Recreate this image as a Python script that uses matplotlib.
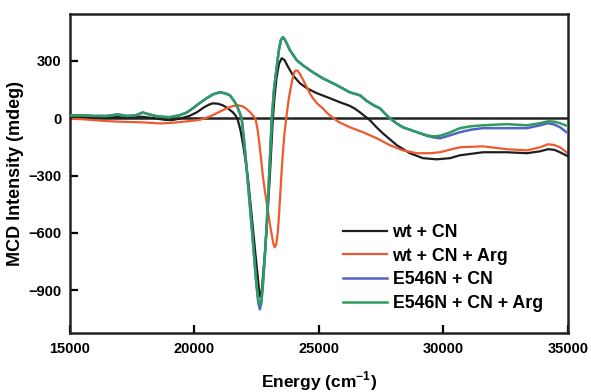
import numpy as np
import matplotlib.pyplot as plt

plt.rcParams['font.family'] = ['Liberation Sans', 'DejaVu Sans']
plt.rcParams['font.weight'] = 'bold'
plt.rcParams['mathtext.fontset'] = 'custom'
plt.rcParams['mathtext.rm'] = 'Liberation Sans:bold'
plt.rcParams['mathtext.bf'] = 'Liberation Sans:bold'

# wt + CN
wt_x = [15000, 15500, 16000, 16500, 16900, 17300, 17900, 18400, 18800, 19100, 19420,
        19800, 20100, 20400, 20600, 20750, 20950, 21140, 21350, 21550, 21680, 21750,
        21850, 21950, 22050, 22150, 22250, 22350, 22450, 22550, 22600, 22650, 22700,
        22750, 22830, 22910, 22970, 23030, 23090, 23150, 23220, 23300, 23400, 23510,
        23620, 23760, 23960, 24240, 24520, 24920, 25440, 25840, 26240, 26450, 26650,
        27050, 27300, 27570, 28130, 28650, 29180, 29740, 30260, 30660, 31590, 32550,
        33350, 33880, 34200, 34450, 34680, 35000]
wt_y = [5, 5, 3, 3, 6, 3, 8, 0, -8, -10, -2,
        12, 31, 58, 72, 78, 76, 68, 52, 31, 10, -10,
        -60, -131, -215, -309, -440, -571, -705, -832, -900, -935, -910,
        -840, -710, -571, -440, -309, -160, -10, 110, 210, 285, 314,
        305, 270, 225, 183, 157, 131, 105, 84, 65, 50, 31,
        -10, -45, -79, -141, -183, -209, -215, -209, -194, -178, -178,
        -183, -173, -162, -165, -178, -199]

# wt + CN + Arg
wt_arg_x = [15000, 15500, 16000, 16500, 17000, 17500, 18000, 18600, 19000, 19420, 19800,
            20220, 20500, 20740, 21000, 21300, 21550, 21750, 21950, 22100, 22250, 22350,
            22450, 22530, 22600, 22680, 22750, 22850, 22950, 23030, 23110, 23170, 23230,
            23290, 23350, 23400, 23450, 23500, 23550, 23620, 23700, 23780, 23850, 23950,
            24020, 24080, 24150, 24250, 24350, 24520, 24640, 24760, 24950, 25160, 25350,
            25560, 25800, 26240, 26770, 27330, 27850, 28370, 28940, 29460, 29860, 30250,
            30660, 31590, 32550, 33350, 33880, 34200, 34450, 34680, 35000]
wt_arg_y = [-3, -5, -10, -15, -18, -20, -22, -27, -25, -20, -15,
            -8, 3, 16, 33, 52, 64, 68, 62, 48, 30, 15,
            0, -50, -120, -210, -300, -395, -480, -550, -610, -655, -675,
            -660, -600, -510, -400, -290, -190, -80, 10, 90, 145, 210,
            243, 251, 248, 230, 205, 162, 130, 105, 75, 52, 25,
            3, -20, -47, -73, -105, -141, -168, -183, -183, -178, -165,
            -152, -147, -162, -168, -152, -136, -140, -152, -183]

# E546N + CN
mut_x = [15000, 15500, 16000, 16500, 16930, 17300, 17650, 17930, 18200, 18500, 19000,
         19420, 19700, 19940, 20200, 20500, 20750, 21020, 21250, 21430, 21600, 21700,
         21830, 21900, 22000, 22100, 22200, 22300, 22400, 22500, 22570, 22630, 22690,
         22750, 22850, 22950, 23030, 23110, 23200, 23300, 23400, 23480, 23550, 23620,
         23700, 23840, 24110, 24360, 24760, 25160, 25720, 26240, 26650, 26930, 27200,
         27450, 27650, 27850, 28100, 28370, 28940, 29340, 29600, 29860, 30250, 30660,
         31100, 31590, 32550, 33350, 33880, 34200, 34450, 34680, 35000]
mut_y = [15, 15, 12, 12, 20, 12, 15, 30, 20, 10, 5,
         16, 30, 52, 78, 105, 125, 136, 130, 120, 90, 68,
         26, 0, -120, -260, -410, -560, -720, -880, -965, -1000, -970,
         -880, -690, -450, -230, -10, 150, 260, 360, 410, 424, 415,
         395, 356, 304, 277, 241, 209, 173, 136, 120, 90, 68,
         52, 25, 0, -25, -47, -73, -92, -100, -105, -90, -73,
         -60, -52, -52, -52, -37, -26, -33, -47, -79]

# E546N + CN + Arg
mut_arg_x = [15000, 15500, 16000, 16500, 16930, 17300, 17650, 17930, 18200, 18500, 19000,
             19420, 19700, 19940, 20200, 20500, 20750, 21020, 21250, 21430, 21600, 21700,
             21830, 21900, 22000, 22100, 22200, 22300, 22400, 22500, 22570, 22630, 22690,
             22750, 22850, 22950, 23030, 23110, 23200, 23300, 23400, 23480, 23550, 23620,
             23700, 23840, 24110, 24360, 24760, 25160, 25720, 26240, 26650, 26930, 27200,
             27450, 27650, 27850, 28100, 28370, 28940, 29340, 29600, 29860, 30250, 30660,
             31100, 31590, 32550, 33350, 33880, 34200, 34450, 34680, 35000]
mut_arg_y = [15, 15, 12, 12, 20, 12, 15, 30, 20, 10, 5,
             16, 30, 52, 78, 105, 125, 136, 130, 120, 90, 68,
             26, 0, -120, -260, -410, -560, -720, -870, -950, -979, -955,
             -870, -690, -450, -230, -10, 150, 260, 360, 410, 424, 415,
             395, 356, 304, 277, 241, 209, 173, 136, 120, 90, 68,
             52, 25, 0, -25, -47, -73, -89, -95, -92, -75, -52,
             -42, -37, -31, -37, -26, -16, -18, -26, -42]

labels = ['wt + CN', 'wt + CN + Arg', 'E546N + CN', 'E546N + CN + Arg']
colors = ['#1e1e1e', '#ee5a2e', '#5464c4', '#2e9b5f']

fig = plt.figure(figsize=(5.91, 3.92), dpi=100)
ax = fig.add_axes([0.118, 0.150, 0.843, 0.814])

ax.axhline(0, color='#222222', lw=1.8, zorder=1)
ax.plot(wt_x, wt_y, color=colors[0], lw=1.6, label=labels[0], zorder=2)
ax.plot(wt_arg_x, wt_arg_y, color=colors[1], lw=1.6, label=labels[1], zorder=2)
ax.plot(mut_x, mut_y, color=colors[2], lw=1.8, label=labels[2], zorder=3)
ax.plot(mut_arg_x, mut_arg_y, color=colors[3], lw=1.8, label=labels[3], zorder=4)

ax.set_xlim(15000, 35000)
ax.set_ylim(-1125, 545)
ax.set_xticks([15000, 20000, 25000, 30000, 35000])
ax.set_yticks([-900, -600, -300, 0, 300])
ax.tick_params(direction='in', length=6, width=1.6, labelsize=10.5, pad=6)
for s in ax.spines.values():
    s.set_linewidth(1.8)
    s.set_color('#222222')

ax.set_xlabel('Energy (cm$^{-1}$)', fontsize=12.5, fontweight='bold')
ax.xaxis.set_label_coords(0.5, -0.115)
ax.set_ylabel('MCD Intensity (mdeg)', fontsize=13, fontweight='bold', labelpad=3)

ax.legend(loc='lower left', bbox_to_anchor=(0.548, 0.066), frameon=False,
          fontsize=12.8, handlelength=2.5, handletextpad=0.3, labelspacing=0.38,
          borderaxespad=0, borderpad=0)

fig.savefig('out.png', dpi=100)
